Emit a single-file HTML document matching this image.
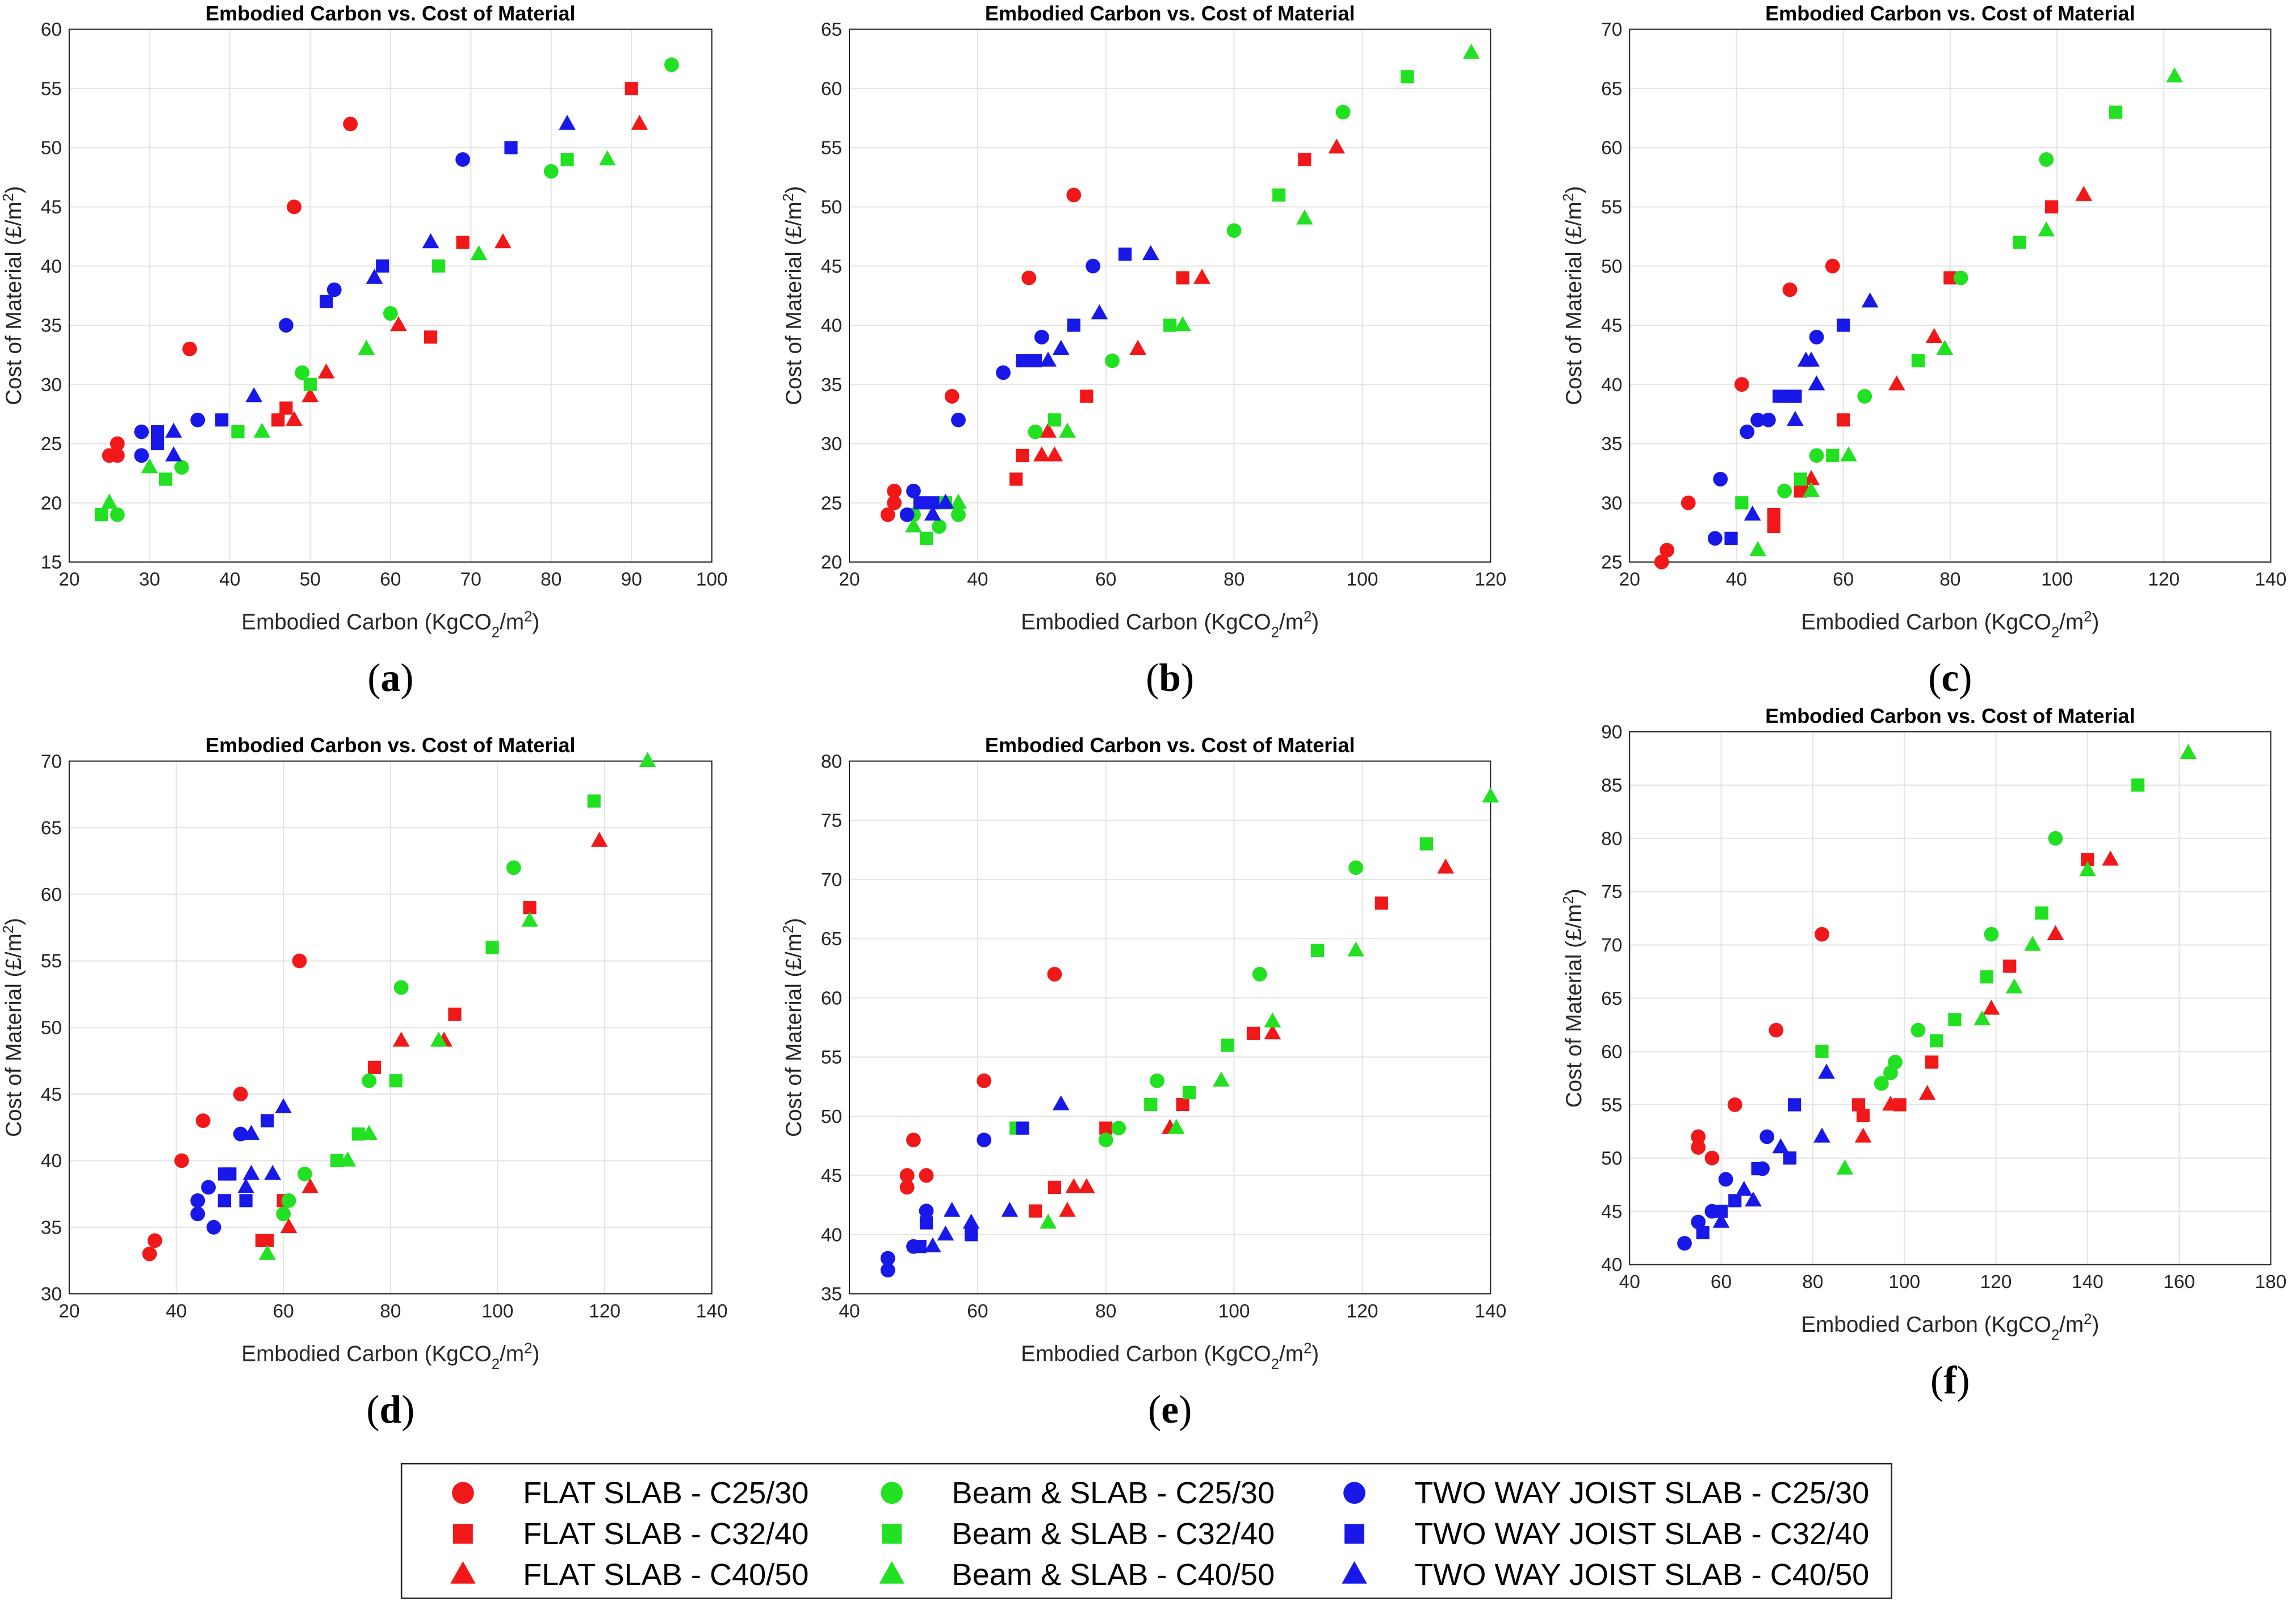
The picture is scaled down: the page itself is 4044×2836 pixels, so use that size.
<!DOCTYPE html>
<html><head><meta charset="utf-8"><style>
html,body{margin:0;padding:0;background:#fff}
svg{display:block}
text{font-family:"Liberation Sans",sans-serif}
</style></head><body>
<svg id="fig" width="4044" height="2836" viewBox="0 0 1568 1100" xmlns="http://www.w3.org/2000/svg"></svg>
<script>
const seriesNames=["FLAT SLAB - C25/30","FLAT SLAB - C32/40","FLAT SLAB - C40/50","Beam & SLAB - C25/30","Beam & SLAB - C32/40","Beam & SLAB - C40/50","TWO WAY JOIST SLAB - C25/30","TWO WAY JOIST SLAB - C32/40","TWO WAY JOIST SLAB - C40/50"];
const seriesColors=["#f01818","#f01818","#f01818","#22e022","#22e022","#22e022","#1818e8","#1818e8","#1818e8"];
const seriesShapes=["circle","square","triangle","circle","square","triangle","circle","square","triangle"];
const dataA=[
[[25,24],[26,24],[26,25],[35,33],[48,45],[55,52]],
[[47,28],[46,27],[65,34],[69,42],[90,55]],
[[48,27],[50,29],[52,31],[61,35],[74,42],[91,52]],
[[26,19],[34,23],[49,31],[60,36],[80,48],[95,57]],
[[24,19],[32,22],[41,26],[50,30],[66,40],[82,49]],
[[25,20],[30,23],[44,26],[57,33],[71,41],[87,49]],
[[29,26],[29,24],[36,27],[47,35],[53,38],[69,49]],
[[31,26],[31,25],[39,27],[52,37],[59,40],[75,50]],
[[33,26],[33,24],[43,29],[58,39],[65,42],[82,52]]];
const dataB=[
[[26,24],[27,26],[27,25],[36,34],[48,44],[55,51]],
[[46,27],[47,29],[57,34],[72,44],[91,54]],
[[50,29],[51,31],[52,29],[65,38],[75,44],[96,55]],
[[30,24],[34,23],[37,24],[49,31],[61,37],[80,48],[97,58]],
[[32,22],[35,25],[52,32],[70,40],[87,51],[107,61]],
[[30,23],[37,25],[54,31],[72,40],[91,49],[117,63]],
[[29,24],[30,26],[37,32],[44,36],[50,39],[58,45]],
[[31,25],[33,25],[47,37],[49,37],[55,40],[63,46]],
[[33,24],[35,25],[51,37],[53,38],[59,41],[67,46]]];
const dataC=[
[[26,25],[27,26],[31,30],[41,40],[50,48],[58,50]],
[[47,28],[47,29],[52,31],[60,37],[80,49],[99,55]],
[[53,31],[54,32],[70,40],[77,44],[105,56]],
[[49,31],[55,34],[64,39],[82,49],[98,59]],
[[41,30],[52,32],[58,34],[74,42],[93,52],[111,63]],
[[44,26],[54,31],[61,34],[79,43],[98,53],[122,66]],
[[36,27],[37,32],[42,36],[44,37],[46,37],[55,44]],
[[39,27],[48,39],[50,39],[51,39],[60,45]],
[[43,29],[51,37],[53,42],[54,42],[55,40],[65,47]]];
const dataD=[
[[35,33],[36,34],[41,40],[45,43],[52,45],[63,55]],
[[56,34],[57,34],[60,37],[77,47],[92,51],[106,59]],
[[61,35],[65,38],[82,49],[90,49],[119,64]],
[[60,36],[61,37],[64,39],[76,46],[82,53],[103,62]],
[[70,40],[74,42],[81,46],[99,56],[118,67]],
[[57,33],[72,40],[76,42],[89,49],[106,58],[128,70]],
[[44,36],[44,37],[46,38],[47,35],[52,42]],
[[49,39],[50,39],[49,37],[53,37],[57,43]],
[[53,38],[54,42],[54,39],[58,39],[60,44]]];
const dataE=[
[[50,48],[49,45],[49,44],[52,45],[61,53],[72,62]],
[[69,42],[72,44],[80,49],[92,51],[103,57],[123,68]],
[[74,42],[75,44],[77,44],[90,49],[106,57],[133,71]],
[[80,48],[82,49],[88,53],[104,62],[119,71]],
[[66,49],[87,51],[93,52],[99,56],[113,64],[130,73]],
[[71,41],[91,49],[98,53],[106,58],[119,64],[140,77]],
[[46,37],[46,38],[50,39],[52,42],[61,48]],
[[51,39],[52,41],[59,40],[67,49]],
[[53,39],[55,40],[56,42],[59,41],[65,42],[73,51]]];
const dataF=[
[[55,51],[55,52],[58,50],[63,55],[72,62],[82,71]],
[[90,55],[91,54],[99,55],[106,59],[123,68],[140,78]],
[[91,52],[97,55],[105,56],[119,64],[133,71],[145,78]],
[[95,57],[97,58],[98,59],[103,62],[119,71],[133,80]],
[[82,60],[107,61],[111,63],[118,67],[130,73],[151,85]],
[[87,49],[117,63],[124,66],[128,70],[140,77],[162,88]],
[[52,42],[55,44],[58,45],[61,48],[69,49],[70,52]],
[[56,43],[60,45],[63,46],[68,49],[75,50],[76,55]],
[[60,44],[65,47],[67,46],[73,51],[82,52],[83,58]]];
const xTicksA=[20,30,40,50,60,70,80,90,100], yTicksA=[15,20,25,30,35,40,45,50,55,60];
const xTicksB=[20,40,60,80,100,120], yTicksB=[20,25,30,35,40,45,50,55,60,65];
const xTicksC=[20,40,60,80,100,120,140], yTicksC=[25,30,35,40,45,50,55,60,65,70];
const xTicksD=[20,40,60,80,100,120,140], yTicksD=[30,35,40,45,50,55,60,65,70];
const xTicksE=[40,60,80,100,120,140], yTicksE=[35,40,45,50,55,60,65,70,75,80];
const xTicksF=[40,60,80,100,120,140,160,180], yTicksF=[40,45,50,55,60,65,70,75,80,85,90];
const panelLabels=["(a)","(b)","(c)","(d)","(e)","(f)"];

const NS="http://www.w3.org/2000/svg";
const svg=document.getElementById('fig');
function mk(tag,attrs,parent,text){const e=document.createElementNS(NS,tag);for(const k in attrs)e.setAttribute(k,attrs[k]);if(text!==undefined)e.textContent=text;(parent||svg).appendChild(e);return e;}
function marker(shape,cx,cy,color,parent,r){
  r=r||5;let e;
  if(shape==='circle')e=mk('circle',{cx,cy,r,fill:color},parent);
  else if(shape==='square')e=mk('rect',{x:cx-r*0.9,y:cy-r*0.9,width:r*1.8,height:r*1.8,fill:color},parent);
  else e=mk('polygon',{points:`${cx},${cy-r*1.25} ${cx+r*1.15},${cy+r*0.8} ${cx-r*1.15},${cy+r*0.8}`,fill:color},parent);
  return e;
}
const panels=[
 {d:dataA,xt:xTicksA,yt:yTicksA,L:47,R:486,T:20,B:384},
 {d:dataB,xt:xTicksB,yt:yTicksB,L:580,R:1018,T:20,B:384},
 {d:dataC,xt:xTicksC,yt:yTicksC,L:1113,R:1551,T:20,B:384},
 {d:dataD,xt:xTicksD,yt:yTicksD,L:47,R:486,T:520,B:884},
 {d:dataE,xt:xTicksE,yt:yTicksE,L:580,R:1018,T:520,B:884},
 {d:dataF,xt:xTicksF,yt:yTicksF,L:1113,R:1551,T:500,B:864}];
panels.forEach((p,pi)=>{
  const g=mk('g',{});
  
  
  const x0=p.xt[0],x1=p.xt[p.xt.length-1],y0=p.yt[0],y1=p.yt[p.yt.length-1];
  const sx=v=>p.L+(v-x0)/(x1-x0)*(p.R-p.L);
  const sy=v=>p.B-(v-y0)/(y1-y0)*(p.B-p.T);
  mk('rect',{x:p.L,y:p.T,width:p.R-p.L,height:p.B-p.T,fill:'#fff'},g);
  p.xt.forEach(t=>{const x=sx(t);mk('line',{x1:x,x2:x,y1:p.T,y2:p.B,stroke:'#e4e4e4','stroke-width':0.8},g);
    const tl=mk('text',{x:x,y:p.B+16,'font-size':13,'text-anchor':'middle',fill:'#262626'},g,t);
    });
  p.yt.forEach(t=>{const y=sy(t);mk('line',{x1:p.L,x2:p.R,y1:y,y2:y,stroke:'#e4e4e4','stroke-width':0.8},g);
    const tl=mk('text',{x:p.L-5,y:y+4.5,'font-size':13,'text-anchor':'end',fill:'#262626'},g,t);
    });
  mk('rect',{x:p.L,y:p.T,width:p.R-p.L,height:p.B-p.T,fill:'none',stroke:'#262626','stroke-width':0.8},g);
  const cx=(p.L+p.R)/2;
  const ti=mk('text',{x:cx,y:p.T-6,'font-size':14,'font-weight':'bold','text-anchor':'middle',fill:'#000'},g,'Embodied Carbon vs. Cost of Material');
  
  const xl=mk('text',{x:cx,y:p.B+46,'font-size':15,'text-anchor':'middle',fill:'#262626'},g);
  xl.innerHTML='Embodied Carbon (KgCO<tspan baseline-shift="sub" font-size="10">2</tspan>/m<tspan baseline-shift="super" font-size="10">2</tspan>)';
  
  const yc=(p.T+p.B)/2;
  const yl=mk('text',{x:0,y:0,transform:`translate(${p.L-33},${yc}) rotate(-90)`,'font-size':15,'text-anchor':'middle',fill:'#262626'},g);
  yl.innerHTML='Cost of Material (£/m<tspan baseline-shift="super" font-size="10">2</tspan>)';
  
  const pl=mk('text',{x:cx,y:p.B+88,'font-size':27,'text-anchor':'middle',fill:'#000',style:'font-family:"Liberation Serif",serif'},g);
  pl.innerHTML='(<tspan font-weight="bold">'+"abcdef"[pi]+'</tspan>)';
  
  p.d.forEach((ser,si)=>{ser.forEach(pt=>{
    const m=marker(seriesShapes[si],sx(pt[0]),sy(pt[1]),seriesColors[si],g);
    
    
  });});
});
const lg=mk('g',{});


mk('rect',{x:274,y:1000,width:1018,height:92,fill:'#fff',stroke:'#262626','stroke-width':1},lg);
const colX=[316,609,925],rowY=[1020,1048,1076];
seriesNames.forEach((n,i)=>{
  const c=Math.floor(i/3),r=i%3;
  const e=mk('g',{},lg);
  
  
  marker(seriesShapes[i],colX[c],rowY[r],seriesColors[i],e,7.5);
  mk('text',{x:colX[c]+41,y:rowY[r]+7,'font-size':21,fill:'#000'},e,n);
});
</script>
</body></html>
